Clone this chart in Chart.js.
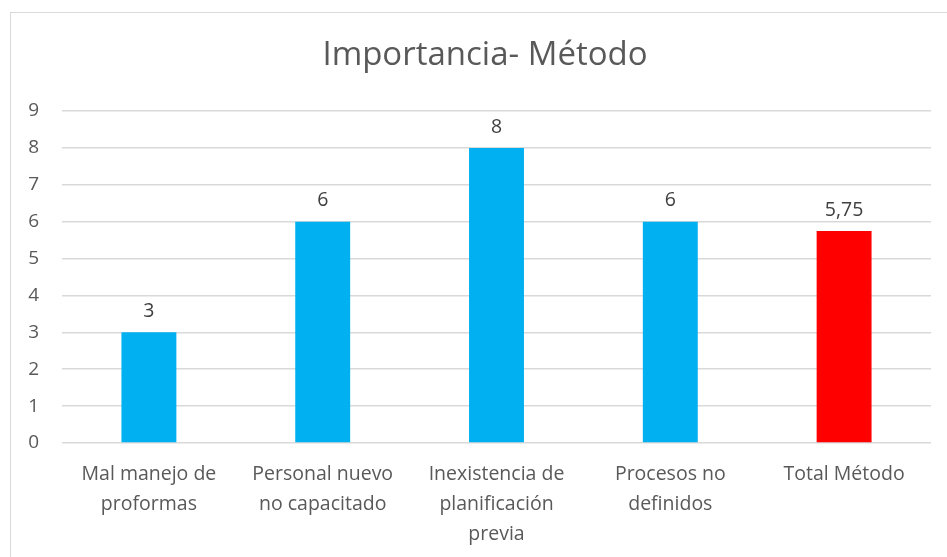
<!DOCTYPE html>
<html>
<head>
<meta charset="utf-8">
<script src="https://cdn.jsdelivr.net/npm/chart.js@4/dist/chart.umd.min.js"></script>
<style>
    html, body { margin: 0; padding: 0; background: #ffffff; }
    #frame {
        position: absolute; left: 10px; top: 12px;
        width: 936px; height: 544px;
        border: 1px solid #d9d9d9;
    }
</style>
</head>
<body>
<div id="frame"><canvas id="chart" width="936" height="544"></canvas></div>
<script>
// Chart data
const chart_title = 'Importancia- Método';
const categories = [
    ['Mal manejo de', 'proformas'],
    ['Personal nuevo', 'no capacitado'],
    ['Inexistencia de', 'planificación', 'previa'],
    ['Procesos no', 'definidos'],
    'Total Método'
];
const values = [3, 6, 8, 6, 5.75];
const bar_colors = ['#00b0f0', '#00b0f0', '#00b0f0', '#00b0f0', '#ff0000'];
const y_ticks = [0, 1, 2, 3, 4, 5, 6, 7, 8, 9];

const FONT = "'Open Sans', 'Noto Sans', sans-serif";

/**
 * Draw the title, centred a bit right of the canvas middle like the original
 */
const title_text = {
    id: 'title_text',
    afterDraw(chart) {
        const ctx = chart.ctx;
        ctx.save();
        ctx.font = '33px ' + FONT;
        ctx.fillStyle = '#595959';
        ctx.textAlign = 'center';
        ctx.textBaseline = 'middle';
        ctx.fillText(chart_title, (chart.width + 12) / 2, 43);
        ctx.restore();
    }
};

/**
 * Draw the value over each bar (Spanish decimal comma)
 */
const value_labels = {
    id: 'value_labels',
    afterDatasetsDraw(chart) {
        const ctx = chart.ctx;
        const meta = chart.getDatasetMeta(0);
        ctx.save();
        ctx.font = '19.5px ' + FONT;
        ctx.fillStyle = '#404040';
        ctx.textAlign = 'center';
        ctx.textBaseline = 'bottom';
        meta.data.forEach((bar, i) => {
            let txt = String(values[i]).replace('.', ',');
            ctx.fillText(txt, bar.x, bar.y - 11);
        });
        ctx.restore();
    }
};

new Chart(document.getElementById('chart').getContext('2d'), {
    type: 'bar',
    data: {
        labels: categories,
        datasets: [{
            data: values,
            backgroundColor: bar_colors,
            categoryPercentage: 1.0,
            barPercentage: 0.316
        }]
    },
    options: {
        responsive: false,
        animation: false,
        layout: { padding: { left: 0, right: 16, top: 98, bottom: 0 } },
        plugins: {
            legend: { display: false },
            tooltip: { enabled: false },
            title: { display: false }
        },
        scales: {
            x: {
                grid: { display: false },
                border: { display: false },
                ticks: {
                    color: '#595959',
                    font: { family: FONT, size: 19.5, lineHeight: 1.54 },
                    padding: 8,
                    maxRotation: 0,
                    autoSkip: false
                },
                afterFit(axis) { axis.height = 114; }
            },
            y: {
                min: 0,
                max: 9,
                afterBuildTicks(axis) { axis.ticks = y_ticks.map(v => ({ value: v })); },
                grid: { color: '#d9d9d9', lineWidth: 1.5, drawTicks: false },
                border: { display: false },
                ticks: {
                    color: '#595959',
                    font: { family: FONT, size: 19 },
                    padding: 23
                },
                afterFit(axis) { axis.width = 51; }
            }
        }
    },
    plugins: [value_labels, title_text]
});
</script>
</body>
</html>
